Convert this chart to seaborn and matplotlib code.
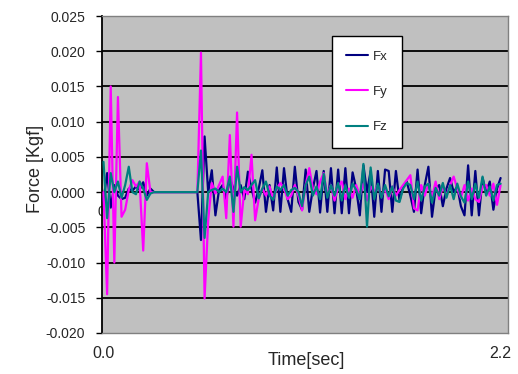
import numpy as np
import pandas as pd
import matplotlib
matplotlib.use("Agg")
import matplotlib.pyplot as plt
import seaborn as sns
from matplotlib.ticker import FormatStrFormatter
from matplotlib.lines import Line2D

sns.set_style("white")
plt.rcParams['font.family'] = ['Liberation Sans', 'DejaVu Sans']
plt.rcParams['axes.unicode_minus'] = False

# ---------------- data ----------------
series_names = ["Fx", "Fy", "Fz"]
series_colors = ["#000080", "#FF00FF", "#008080"]
dt = 0.02  # sampling step [sec]

fx = [
    -0.0012, 0.0027, -0.0022, 0.0010, -0.0005, -0.0010, -0.0008, 0.0005, 0.0002, 0.0008,
    0.0003, 0.0014, -0.0005, 0.0005, 0.0000,
    0.0, 0.0, 0.0, 0.0, 0.0, 0.0, 0.0, 0.0, 0.0, 0.0, 0.0, 0.0,
    -0.0068, 0.0079, 0.0000, 0.0031, -0.0033, 0.0003, 0.0010, -0.0010, 0.0020, 0.0005,
    -0.0005, 0.0010, -0.0010, 0.0029, 0.0005, -0.0015, 0.0005, 0.0031, -0.0028, 0.0010,
    -0.0026, 0.0035, -0.0028, 0.0034, -0.0010, -0.0028, 0.0036, -0.0014, -0.0025, 0.0032,
    -0.0028, 0.0005, 0.0030, -0.0029, 0.0030, -0.0028, 0.0034, -0.0030, 0.0032, -0.0030,
    0.0034, -0.0030, 0.0028, 0.0005, -0.0033, 0.0038, 0.0000, 0.0030, -0.0035, 0.0030,
    -0.0028, 0.0032, 0.0030, -0.0028, 0.0030, -0.0012, 0.0008, 0.0015, -0.0005, -0.0028,
    0.0032, -0.0030, 0.0010, 0.0036, -0.0035, 0.0005, 0.0010, -0.0020, 0.0005, 0.0020,
    0.0000, 0.0008, -0.0020, -0.0033, 0.0038, -0.0033, 0.0030, -0.0033, 0.0020, 0.0000,
    0.0015, -0.0025, 0.0005, 0.0020,
]

fy = [
    0.0000, -0.0145, 0.0150, -0.0100, 0.0135, -0.0035, -0.0025, 0.0003, 0.0017, 0.0008,
    0.0015, -0.0083, 0.0041, 0.0000, 0.0000,
    0.0, 0.0, 0.0, 0.0, 0.0, 0.0, 0.0, 0.0, 0.0, 0.0, 0.0, 0.0,
    0.0198, -0.0151, -0.0040, 0.0013, -0.0002, 0.0010, 0.0022, -0.0037, 0.0081, -0.0049,
    0.0113, -0.0049, 0.0003, -0.0003, 0.0053, -0.0040, -0.0009, 0.0005, -0.0005, 0.0008,
    -0.0010, 0.0005, 0.0013, 0.0005, -0.0010, -0.0005, 0.0010, -0.0005, -0.0026, 0.0010,
    0.0034, 0.0005, -0.0003, 0.0015, 0.0027, -0.0005, 0.0010, -0.0012, 0.0008, 0.0015,
    -0.0010, 0.0005, -0.0008, 0.0010, -0.0005, 0.0012, -0.0012, 0.0008, 0.0000, 0.0010,
    -0.0006, 0.0005, -0.0010, 0.0008, -0.0005, 0.0003, 0.0010, 0.0017, 0.0024, -0.0023,
    -0.0026, 0.0010, -0.0005, 0.0012, -0.0008, 0.0015, -0.0010, 0.0008, -0.0005, 0.0010,
    0.0022, 0.0005, -0.0008, 0.0010, -0.0012, 0.0005, -0.0010, -0.0014, 0.0008, 0.0010,
    -0.0005, 0.0012, -0.0018, 0.0010,
]

fz = [
    0.0043, -0.0037, 0.0027, 0.0000, 0.0015, -0.0008, 0.0010, 0.0036, 0.0000, -0.0003,
    0.0015, 0.0005, -0.0011, -0.0002, 0.0000,
    0.0, 0.0, 0.0, 0.0, 0.0, 0.0, 0.0, 0.0, 0.0, 0.0, 0.0, 0.0,
    0.0059, -0.0065, 0.0000, 0.0003, 0.0005, 0.0000, 0.0005, 0.0000, 0.0022, -0.0028,
    0.0036, 0.0000, 0.0007, 0.0003, 0.0010, 0.0017, -0.0009, 0.0005, 0.0015, -0.0005,
    -0.0011, 0.0008, 0.0003, 0.0010, -0.0005, 0.0003, 0.0006, 0.0000, -0.0020, 0.0010,
    0.0022, -0.0005, 0.0008, -0.0010, 0.0026, -0.0008, 0.0010, -0.0005, 0.0013, -0.0012,
    0.0010, -0.0008, 0.0012, 0.0003, -0.0010, 0.0040, -0.0049, 0.0035, -0.0010, 0.0012,
    -0.0008, 0.0010, -0.0006, 0.0008, -0.0012, -0.0014, 0.0005, 0.0013, 0.0010, -0.0010,
    0.0015, -0.0012, 0.0008, 0.0012, -0.0015, 0.0006, -0.0005, 0.0013, -0.0008, 0.0010,
    -0.0010, 0.0012, -0.0006, -0.0015, 0.0015, -0.0010, 0.0012, -0.0008, 0.0022, -0.0005,
    0.0008, -0.0012, 0.0010, 0.0012,
]

y_ticks = [-0.020, -0.015, -0.010, -0.005, 0.000, 0.005, 0.010, 0.015, 0.020, 0.025]
x_ticks = [0.0, 2.2]
x_tick_labels = ["0.0", "2.2"]
x_label = "Time[sec]"
y_label = "Force [Kgf]"

# ---------------- build long-form table ----------------
time = np.arange(len(fx)) * dt
frames = []
for name, vals in zip(series_names, [fx, fy, fz]):
    frames.append(pd.DataFrame({"Time": time, "Force": vals, "Component": name}))
df = pd.concat(frames, ignore_index=True)

# ---------------- figure ----------------
W, H = 518, 374
fig = plt.figure(figsize=(W / 100, H / 100), dpi=100)
fig.patch.set_facecolor("white")
L, R, T, B = 102, 508, 16, 333
ax = fig.add_axes([L / W, 1 - B / H, (R - L) / W, (B - T) / H])
ax.set_facecolor("#C0C0C0")

for yv in y_ticks[1:-1]:
    ax.axhline(yv, color="black", lw=1.3, zorder=1)

sns.lineplot(data=df, x="Time", y="Force", hue="Component",
             hue_order=series_names, palette=series_colors,
             estimator=None, sort=False, lw=1.6, ax=ax, legend=False, zorder=3)

ax.set_ylim(-0.020, 0.025)
ax.set_xlim(-0.0083, 2.241)
ax.set_yticks(y_ticks)
ax.yaxis.set_major_formatter(FormatStrFormatter("%.3f"))
ax.set_xticks(x_ticks)
ax.set_xticklabels(x_tick_labels)
ax.tick_params(axis="y", direction="out", length=4, width=1, color="black",
               labelsize=10, pad=8, left=True)
ax.tick_params(axis="x", length=0, labelsize=11.5, pad=9, bottom=True)

for side in ["top", "right", "bottom"]:
    ax.spines[side].set_color("#808080")
    ax.spines[side].set_linewidth(1.0)
ax.spines["left"].set_color("black")
ax.spines["left"].set_linewidth(1.3)

ax.set_xlabel(x_label, fontsize=13)
ax.set_ylabel(y_label, fontsize=13)
ax.xaxis.set_label_coords((306 - L) / (R - L), (B - 352) / (B - T))
ax.xaxis.label.set_va("top")
ax.yaxis.set_label_coords((44 - L) / (R - L), (B - 168.5) / (B - T))

# stray "0" label partially hidden behind the plot area
fig.text(101 / W, 1 - 212 / H, "0", fontsize=10, ha="center", va="center", zorder=-1)

handles = [Line2D([0], [0], color=c, lw=1.5) for c in series_colors]
leg = ax.legend(handles, series_names, loc="upper left",
                bbox_to_anchor=(331.7 / W, 1 - 36 / H), bbox_transform=fig.transFigure,
                fontsize=9.5, frameon=True, fancybox=False, framealpha=1,
                edgecolor="black", borderpad=1.1, labelspacing=1.75,
                handlelength=1.65, handletextpad=0.35, borderaxespad=0)
leg.get_frame().set_linewidth(1.0)
leg.set_zorder(5)

fig.savefig("out.png", dpi=100, facecolor="white")
